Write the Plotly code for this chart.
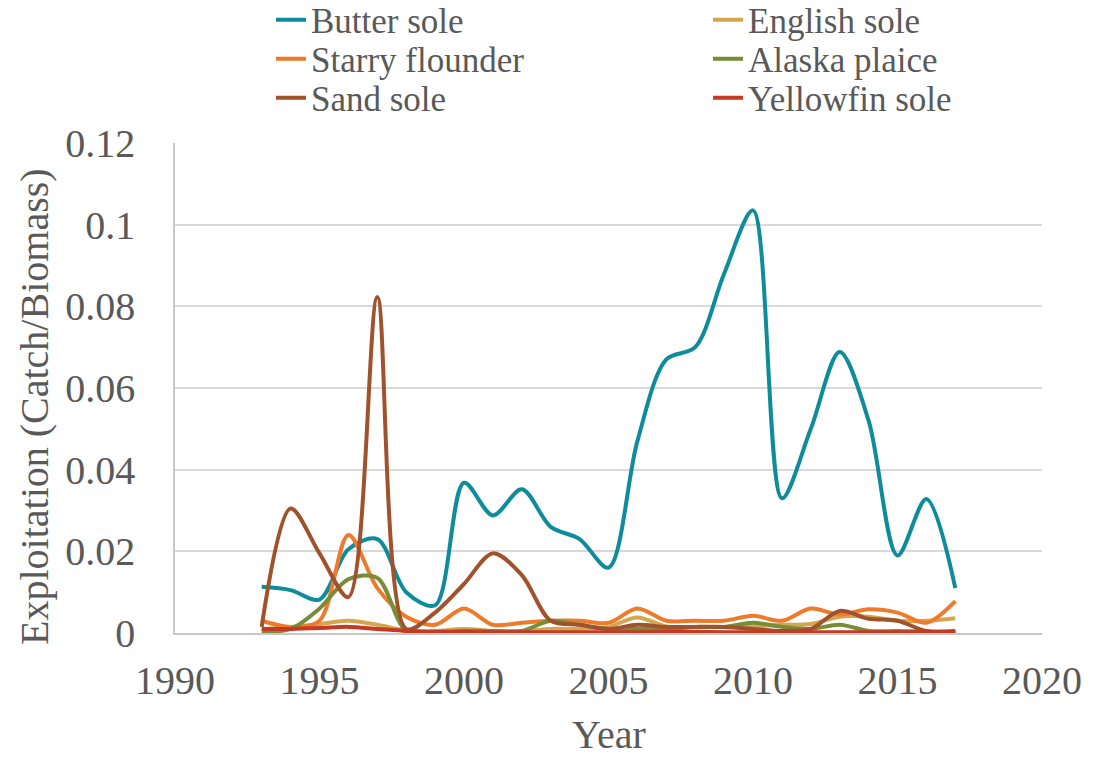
import plotly.graph_objects as go

years = list(range(1993, 2018))

butter_sole = [0.0113, 0.0105, 0.0082, 0.0205, 0.0230, 0.0100, 0.0068, 0.0368, 0.0288, 0.0352,
               0.0260, 0.0230, 0.0160, 0.0470, 0.0670, 0.0700, 0.0880, 0.1035, 0.0330, 0.0500,
               0.0688, 0.0520, 0.0190, 0.0328, 0.0110]
english_sole = [0.0010, 0.0015, 0.0022, 0.0030, 0.0020, 0.0006, 0.0005, 0.0010, 0.0005, 0.0005,
                0.0010, 0.0010, 0.0015, 0.0038, 0.0016, 0.0015, 0.0015, 0.0016, 0.0020, 0.0022,
                0.0040, 0.0040, 0.0030, 0.0030, 0.0036]
starry_flounder = [0.0030, 0.0015, 0.0030, 0.0240, 0.0110, 0.0040, 0.0020, 0.0060, 0.0020, 0.0025,
                   0.0030, 0.0030, 0.0025, 0.0060, 0.0030, 0.0030, 0.0030, 0.0042, 0.0030, 0.0060,
                   0.0045, 0.0058, 0.0050, 0.0025, 0.0078]
alaska_plaice = [0.0003, 0.0010, 0.0060, 0.0132, 0.0135, 0.0005, 0.0000, 0.0005, 0.0005, 0.0005,
                 0.0030, 0.0020, 0.0010, 0.0010, 0.0010, 0.0015, 0.0015, 0.0025, 0.0015, 0.0010,
                 0.0020, 0.0005, 0.0005, 0.0003, 0.0003]
sand_sole = [0.0015, 0.0305, 0.0195, 0.0088, 0.0823, 0.0010, 0.0050, 0.0120, 0.0195, 0.0142,
             0.0030, 0.0020, 0.0010, 0.0020, 0.0015, 0.0015, 0.0015, 0.0010, 0.0005, 0.0010,
             0.0054, 0.0035, 0.0030, 0.0005, 0.0005]
yellowfin_sole = [0.0010, 0.0010, 0.0012, 0.0015, 0.0010, 0.0005, 0.0003, 0.0003, 0.0002, 0.0002,
                  0.0002, 0.0002, 0.0002, 0.0002, 0.0003, 0.0003, 0.0002, 0.0002, 0.0002, 0.0002,
                  0.0002, 0.0002, 0.0002, 0.0002, 0.0002]

series_names = ["Butter sole", "English sole", "Starry flounder", "Alaska plaice", "Sand sole", "Yellowfin sole"]
series_values = [butter_sole, english_sole, starry_flounder, alaska_plaice, sand_sole, yellowfin_sole]
colors = ["#0E8C9B", "#D4A650", "#EE7A2C", "#778D38", "#A0522D", "#C43A22"]

x_ticks = [1990, 1995, 2000, 2005, 2010, 2015, 2020]
y_ticks = [0, 0.02, 0.04, 0.06, 0.08, 0.1, 0.12]
y_ticktext = ["0", "0.02", "0.04", "0.06", "0.08", "0.1", "0.12"]

FONT = "Liberation Serif, Times New Roman, serif"
TXT = "#595959"
W, H = 1101, 759
ML, MR, MT, MB = 175, 59, 143, 126
PW, PH = W - ML - MR, H - MT - MB

# legend layout: (text-left px, row center px)
leg_pos = [(313, 20), (750, 20), (313, 59), (750, 59), (313, 98), (750, 98)]

fig = go.Figure()
for i, (name, vals, col) in enumerate(zip(series_names, series_values, colors)):
    lg = "legend" if i == 0 else f"legend{i+1}"
    fig.add_trace(go.Scatter(
        x=years, y=vals, name=name, mode="lines",
        line=dict(color=col, width=4, shape="spline", smoothing=0.9),
        legend=lg,
    ))

layout_legends = {}
for i, (tx, ty) in enumerate(leg_pos):
    key = "legend" if i == 0 else f"legend{i+1}"
    layout_legends[key] = dict(
        x=(tx - 40 - 2) / W, y=1 - ty / H, xref="container", yref="container",
        xanchor="left", yanchor="middle",
        font=dict(family=FONT, size=35, color=TXT),
        bgcolor="rgba(0,0,0,0)", borderwidth=0,
    )

fig.update_layout(
    width=W, height=H,
    paper_bgcolor="white", plot_bgcolor="white",
    margin=dict(l=ML, r=MR, t=MT, b=MB, autoexpand=False),
    font=dict(family=FONT, size=40, color=TXT),
    showlegend=True,
    annotations=[
        dict(text="Year", xref="paper", yref="paper",
             x=(609 - ML) / PW, y=(MT + PH - 734) / PH, xanchor="center", yanchor="middle",
             showarrow=False, font=dict(family=FONT, size=40, color=TXT)),
        dict(text="Exploitation (Catch/Biomass)", xref="paper", yref="paper", textangle=-90,
             x=(34 - ML) / PW, y=(MT + PH - 407) / PH, xanchor="center", yanchor="middle",
             showarrow=False, font=dict(family=FONT, size=40, color=TXT)),
    ],
    **layout_legends,
)
fig.update_xaxes(
    range=[1990, 2020], tickvals=x_ticks, ticktext=[str(v) for v in x_ticks],
    showgrid=False, zeroline=False, showline=True, linecolor="#C8C8C8", linewidth=1.5,
    tickfont=dict(family=FONT, size=40, color=TXT), ticks="", ticklabelstandoff=11,
    automargin=False,
)
fig.update_yaxes(
    range=[0, 0.12], tickvals=y_ticks, ticktext=y_ticktext,
    showgrid=True, gridcolor="#D9D9D9", gridwidth=1.5, zeroline=False,
    showline=True, linecolor="#C8C8C8", linewidth=1.5,
    tickfont=dict(family=FONT, size=40, color=TXT), ticks="", ticklabelstandoff=30,
    automargin=False,
)

fig.write_html(
    "out.html",
    config={"displayModeBar": False},
    post_script="document.body.style.margin='0';document.body.style.overflow='hidden';",
)
